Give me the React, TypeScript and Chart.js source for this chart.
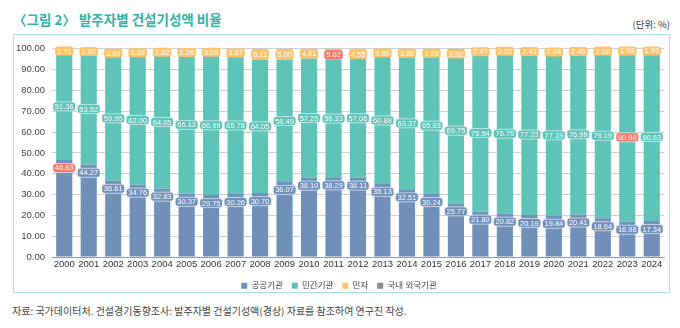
import React, { useEffect, useRef } from "react";
import { Chart, registerables } from "chart.js";
Chart.register(...registerables);

const years = ["2000","2001","2002","2003","2004","2005","2006","2007","2008","2009","2010","2011","2012","2013","2014","2015","2016","2017","2018","2019","2020","2021","2022","2023","2024"];
const publicShare = [46.63,44.27,36.61,34.76,32.83,30.37,29.75,30.26,30.70,36.07,38.10,38.29,38.11,35.13,32.51,30.24,25.77,21.80,20.82,20.19,19.84,20.41,18.64,16.98,17.34];
const privateShare = [51.36,53.52,59.95,62.00,64.05,66.13,66.99,65.78,64.05,58.49,57.25,56.33,57.06,60.88,63.37,65.63,69.75,75.54,76.75,77.23,77.19,76.99,79.19,80.98,80.63];
const ppiShare = [1.71,1.80,2.60,2.53,2.82,3.26,3.09,3.87,5.11,5.00,4.41,5.02,4.55,3.80,3.86,3.85,3.92,2.47,2.32,2.43,2.84,2.49,2.08,1.98,1.96];
const foreignShare = [0.30,0.41,0.84,0.71,0.30,0.24,0.17,0.09,0.14,0.44,0.24,0.36,0.28,0.19,0.26,0.28,0.56,0.19,0.11,0.15,0.13,0.11,0.09,0.06,0.07];
const seriesNames = ["공공기관", "민간기관", "민자", "국내 외국기관"];
const seriesColors = ["#7190b9", "#5fc4b8", "#fdc26a", "#8a8a8a"];
const highlight: Record<number, number> = { 0: 0, 1: 23, 2: 11 };
const RED = "#f2786a";

const labelPlugin = {
  id: "barLabels",
  afterDatasetsDraw(chart: any) {
    const ctx = chart.ctx;
    ctx.save();
    ctx.font = "7.5px 'Liberation Sans', Arial, sans-serif";
    ctx.textAlign = "center";
    ctx.textBaseline = "middle";
    for (let di = 0; di < 3; di++) {
      const meta = chart.getDatasetMeta(di);
      const data = chart.data.datasets[di].data as number[];
      meta.data.forEach((el: any, i: number) => {
        const props = el.getProps(["x", "y", "base", "width"], true);
        const cy = di === 0 ? props.y + 8 : (props.y + props.base) / 2;
        const txt = data[i].toFixed(2);
        const w = ctx.measureText(txt).width + 4;
        const h = 9;
        const isMax = highlight[di] === i;
        ctx.beginPath();
        if ((ctx as any).roundRect) (ctx as any).roundRect(props.x - w / 2, cy - h / 2, w, h, 3);
        else ctx.rect(props.x - w / 2, cy - h / 2, w, h);
        ctx.fillStyle = isMax ? RED : seriesColors[di];
        ctx.fill();
        if (di !== 2) {
          ctx.strokeStyle = "rgba(255,255,255,0.75)";
          ctx.lineWidth = 0.8;
          ctx.stroke();
        }
        ctx.fillStyle = "#ffffff";
        ctx.fillText(txt, props.x, cy + 0.5);
      });
    }
    ctx.restore();
  },
};

function App() {
  const ref = useRef<HTMLCanvasElement | null>(null);
  useEffect(() => {
    if (!ref.current) return;
    const values = [publicShare, privateShare, ppiShare, foreignShare];
    const chart = new Chart(ref.current, {
      type: "bar",
      data: {
        labels: years,
        datasets: values.map((v, i) => ({
          label: seriesNames[i],
          data: v,
          backgroundColor: seriesColors[i],
          borderWidth: 0,
          barPercentage: 0.66,
          categoryPercentage: 1,
        })),
      },
      options: {
        animation: false,
        responsive: false,
        maintainAspectRatio: false,
        layout: { padding: { top: 12, right: 5, bottom: 0, left: 0 } },
        plugins: {
          legend: {
            position: "bottom",
            labels: {
              boxWidth: 6,
              boxHeight: 6,
              padding: 9,
              color: "#444",
              font: { size: 8.5, family: "'Liberation Sans', 'Noto Sans CJK KR', sans-serif" },
            },
          },
          tooltip: { enabled: false },
        },
        scales: {
          x: {
            stacked: true,
            grid: { display: false, drawTicks: false },
            border: { display: true, color: "#9a9a9a" },
            ticks: { color: "#333", font: { size: 9.5, family: "'Liberation Sans', Arial, sans-serif" }, padding: 2, maxRotation: 0, autoSkip: false },
          },
          y: {
            stacked: true,
            min: 0,
            max: 100,
            afterFit: (s: any) => { s.width = 38; },
            grid: { color: "#cfcfcf", drawTicks: false },
            border: { display: false },
            ticks: {
              stepSize: 10,
              padding: 7,
              color: "#444",
              font: { size: 9.5, family: "'Liberation Sans', Arial, sans-serif" },
              callback: (v: any) => Number(v).toFixed(2),
            },
          },
        },
      },
      plugins: [labelPlugin],
    });
    return () => chart.destroy();
  }, []);

  return (
    <div style={{ position: "fixed", left: 0, top: 0, width: 680, height: 328, background: "#fff", overflow: "hidden" }}>
      <div style={{ position: "absolute", left: 13, top: 9, fontSize: 13.5, fontWeight: 700, color: "#2fb3a4", fontFamily: "'Noto Sans CJK KR', sans-serif", whiteSpace: "nowrap", lineHeight: "20px" }}>
        〈그림 2〉 발주자별 건설기성액 비율
      </div>
      <div style={{ position: "absolute", right: 10, top: 17, fontSize: 9.5, color: "#333", fontFamily: "'Noto Sans CJK KR', sans-serif", whiteSpace: "nowrap", lineHeight: "14px" }}>
        (단위: %)
      </div>
      <div style={{ position: "absolute", left: 13, top: 34, width: 655, height: 257, border: "1.5px solid #a9e3db" }} />
      <canvas ref={ref} width={655} height={264} style={{ position: "absolute", left: 14, top: 36, width: 655, height: 264 }} />
      <div style={{ position: "absolute", left: 12, top: 303, fontSize: 10, color: "#444", fontFamily: "'Noto Sans CJK KR', sans-serif", whiteSpace: "nowrap", lineHeight: "16px" }}>
        자료: 국가데이터처. 건설경기동향조사: 발주자별 건설기성액(경상) 자료를 참조하여 연구진 작성.
      </div>
    </div>
  );
}

export default App;
